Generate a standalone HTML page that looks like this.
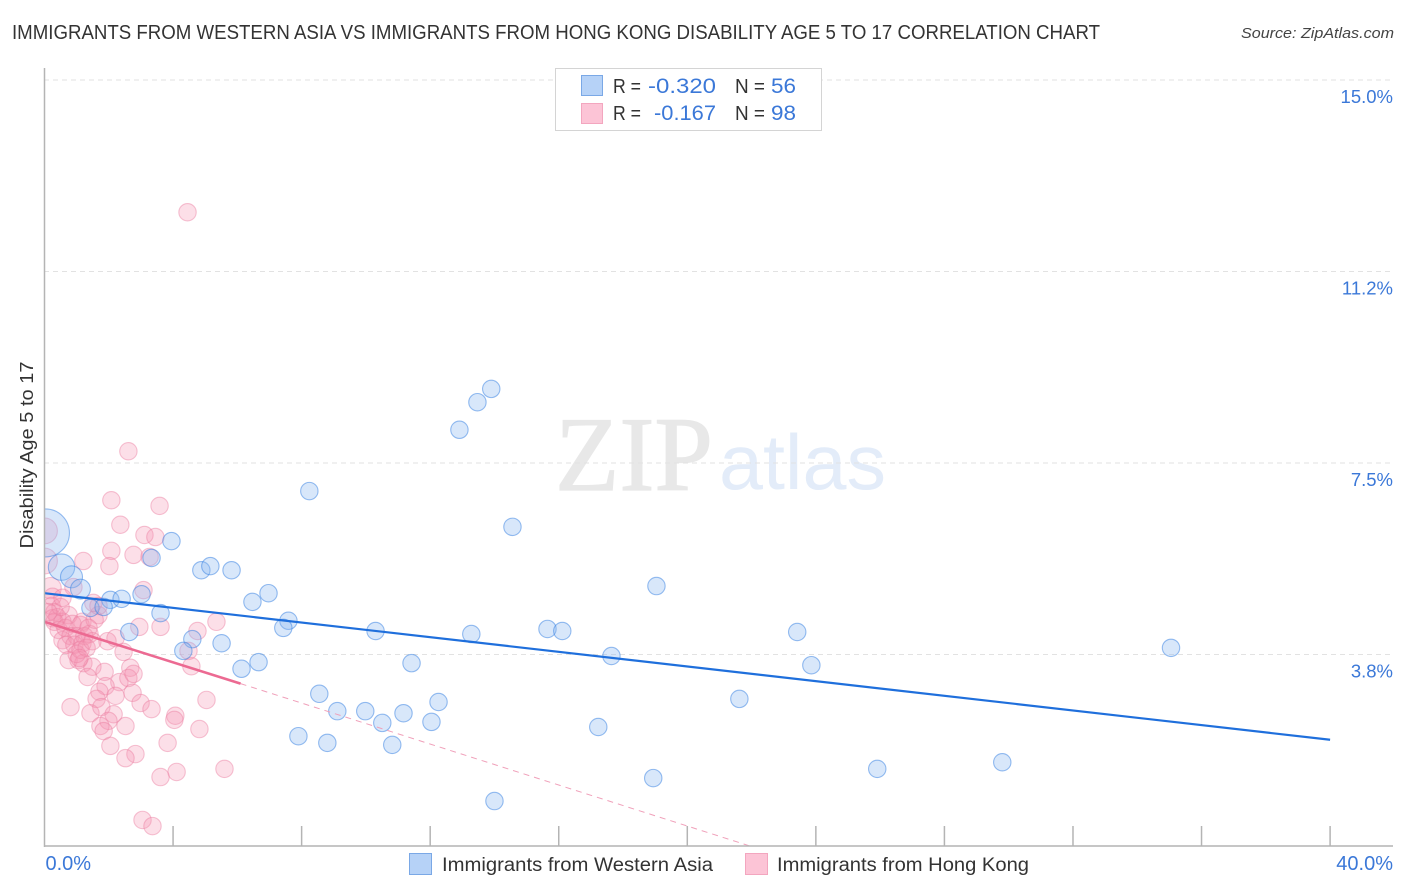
<!DOCTYPE html>
<html lang="en">
<head>
<meta charset="utf-8">
<title>Immigrants from Western Asia vs Immigrants from Hong Kong Disability Age 5 to 17 Correlation Chart</title>
<style>
html,body{margin:0;padding:0;background:#fff;}
svg{display:block;font-family:"Liberation Sans",Arial,sans-serif;}
</style>
</head>
<body>
<svg id="chart" width="1406" height="892" viewBox="0 0 1406 892" xmlns="http://www.w3.org/2000/svg">
  <defs>
    <clipPath id="plot-clip"><rect x="45" y="60" width="1348" height="786"/></clipPath>
  </defs>
  <rect x="0" y="0" width="1406" height="892" fill="#ffffff"/>
  <text x="12" y="39" font-size="20" fill="#333333" textLength="1088" lengthAdjust="spacingAndGlyphs">IMMIGRANTS FROM WESTERN ASIA VS IMMIGRANTS FROM HONG KONG DISABILITY AGE 5 TO 17 CORRELATION CHART</text>
  <text x="1394" y="38" font-size="15" font-style="italic" fill="#444444" text-anchor="end" textLength="153" lengthAdjust="spacingAndGlyphs">Source: ZipAtlas.com</text>

  <g>
    <text x="555" y="490" font-family="'Liberation Serif',serif" font-size="106" stroke="#e8e8e8" stroke-width="1.2" fill="#e8e8e8" textLength="158" lengthAdjust="spacingAndGlyphs">ZIP</text>
    <text x="719" y="489" font-size="78" fill="#e3ecf9" textLength="167" lengthAdjust="spacingAndGlyphs">atlas</text>
  </g>

  <g id="grid"></g>
  <g id="marks-pink" clip-path="url(#plot-clip)"></g>
  <g id="marks-blue" clip-path="url(#plot-clip)"></g>
  <g id="trends"></g>
  <g id="axes"></g>

  <text x="0" y="0" transform="translate(33,455) rotate(-90)" font-size="18" fill="#333333" text-anchor="middle" textLength="187" lengthAdjust="spacingAndGlyphs">Disability Age 5 to 17</text>

  <g>
    <rect x="555.5" y="68.5" width="266" height="62" fill="#ffffff" stroke="#d4d4d4" stroke-width="1"/>
    <rect x="581.5" y="75.5" width="21" height="20" fill="#b6d2f7" stroke="#7aa8e6"/>
    <rect x="581.5" y="103.5" width="21" height="20" fill="#fcc4d6" stroke="#f3a6bf"/>
    <text x="613" y="93" font-size="20" fill="#333333" textLength="28" lengthAdjust="spacingAndGlyphs">R =</text>
    <text x="716" y="93" font-size="21.5" fill="#3b78d8" text-anchor="end" textLength="68" lengthAdjust="spacingAndGlyphs">-0.320</text>
    <text x="735" y="93" font-size="20" fill="#333333" textLength="30" lengthAdjust="spacingAndGlyphs">N =</text>
    <text x="771" y="93" font-size="21.5" fill="#3b78d8" textLength="25" lengthAdjust="spacingAndGlyphs">56</text>
    <text x="613" y="120" font-size="20" fill="#333333" textLength="28" lengthAdjust="spacingAndGlyphs">R =</text>
    <text x="716" y="120" font-size="21.5" fill="#3b78d8" text-anchor="end" textLength="62" lengthAdjust="spacingAndGlyphs">-0.167</text>
    <text x="735" y="120" font-size="20" fill="#333333" textLength="30" lengthAdjust="spacingAndGlyphs">N =</text>
    <text x="771" y="120" font-size="21.5" fill="#3b78d8" textLength="25" lengthAdjust="spacingAndGlyphs">98</text>
  </g>

  <g>
    <rect x="409.5" y="853.5" width="22" height="21" fill="#b6d2f7" stroke="#7aa8e6"/>
    <text x="442" y="871" font-size="19" fill="#333333" textLength="271" lengthAdjust="spacingAndGlyphs">Immigrants from Western Asia</text>
    <rect x="745.5" y="853.5" width="22" height="21" fill="#fcc4d6" stroke="#f3a6bf"/>
    <text x="777" y="871" font-size="19" fill="#333333" textLength="252" lengthAdjust="spacingAndGlyphs">Immigrants from Hong Kong</text>
  </g>
</svg>
<script>
// ---- chart data (percent units) ----
const blueX = [13.90,13.47,12.91,8.24,14.56,3.95,3.33,4.88,5.16,5.82,19.04,6.97,6.47,3.02,2.05,2.40,1.43,1.84,3.61,7.59,7.43,10.30,13.28,15.65,16.11,23.42,2.64,4.60,4.32,5.51,35.05,17.64,6.66,6.13,11.42,23.86,8.55,21.62,12.26,9.11,9.98,11.17,10.51,12.04,17.23,7.90,8.80,10.82,29.80,25.91,18.94,14.00,0.03,0.53,0.84,1.12];
const blueY = [8.95,8.69,8.15,6.95,6.25,5.97,5.64,5.40,5.48,5.40,5.09,4.95,4.78,4.93,4.82,4.84,4.66,4.68,4.56,4.41,4.27,4.21,4.15,4.25,4.21,4.19,4.19,4.05,3.82,3.97,3.88,3.72,3.60,3.47,3.58,3.54,2.98,2.88,2.82,2.64,2.64,2.60,2.41,2.43,2.33,2.15,2.02,1.98,1.64,1.51,1.33,0.88,6.13,5.46,5.27,5.03];
const blueWeight = [1,1,1,1,1,1,1,1,1,1,1,1,1,1,1,1,1,1,1,1,1,1,1,1,1,1,1,1,1,1,1,1,1,1,1,1,1,1,1,1,1,1,1,1,1,1,1,1,1,1,1,1,7.6,2.3,1.6,1.3];

const pinkX = [4.45,2.61,2.08,3.58,2.36,3.11,3.45,2.08,2.77,3.27,1.21,2.02,3.08,0.90,1.52,1.68,0.75,2.95,3.61,5.35,4.76,4.48,1.96,2.21,2.46,1.18,0.75,1.06,1.21,1.49,1.34,1.87,2.67,2.33,2.61,2.77,4.57,1.90,1.71,1.62,2.21,2.74,2.99,3.33,0.81,1.43,1.77,2.15,5.04,4.07,4.04,2.52,1.99,1.74,1.84,4.82,3.83,2.05,2.83,2.52,4.11,3.61,5.60,3.05,3.36,0.00,0.00,0.19,0.25,0.22,0.31,0.25,0.40,0.31,0.56,0.44,0.65,0.87,1.12,0.56,0.81,1.00,1.24,1.40,1.56,1.37,0.68,0.93,1.18,1.00,1.12,1.31,1.09,1.49,1.68,0.50,0.12,0.56];
const pinkY = [12.41,7.73,6.77,6.66,6.29,6.09,6.05,5.78,5.70,5.66,5.58,5.48,5.01,5.07,4.76,4.52,4.52,4.29,4.29,4.39,4.21,3.82,4.01,4.07,3.80,4.39,3.64,3.64,3.58,3.51,3.31,3.41,3.49,3.21,3.29,3.37,3.52,3.13,3.02,2.88,2.94,3.00,2.80,2.68,2.72,2.60,2.72,2.58,2.86,2.55,2.47,2.35,2.45,2.35,2.25,2.29,2.02,1.96,1.80,1.72,1.45,1.35,1.51,0.51,0.39,6.17,5.58,5.05,4.88,4.70,4.58,4.46,4.48,4.39,4.39,4.23,4.27,4.35,4.33,4.03,4.11,4.11,4.11,4.15,4.43,4.27,3.94,3.94,3.97,3.76,3.84,3.88,3.68,4.01,4.70,4.68,4.58,4.86];
const pinkWeight = [1,1,1,1,1,1,1,1,1,1,1,1,1,1,1,1,1,1,1,1,1,1,1,1,1,1,1,1,1,1,1,1,1,1,1,1,1,1,1,1,1,1,1,1,1,1,1,1,1,1,1,1,1,1,1,1,1,1,1,1,1,1,1,1,1,2.2,2.2,1.5,1,1,1,1,1,1,1,1,1,1,1,1,1,1,1,1,1,1,1,1,1,1,1,1,1,1,1,1,1,1];

const blueTrendX = [0,40];
const blueTrendY = [4.95,2.08];
const pinkTrendX = [0,6.1];
const pinkTrendY = [4.39,3.18];
const pinkProjectionX = [6.1,21.95];
const pinkProjectionY = [3.18,0];

const yTicks = [3.75,7.5,11.25,15];
const yTickLabels = ['3.8%','7.5%','11.2%','15.0%'];
const xTicks = [4,8,12,16,20,24,28,32,36,40];
const xEndValues = [0,40];
const xEndLabels = ['0.0%','40.0%'];

// ---- axis functions ----
const xScale = v => 44.5 + v * 32.14;
const yScale = v => 846 - v * 51.07;
const NS = 'http://www.w3.org/2000/svg';

function make(parent, tag, props) {
  const el = document.createElementNS(NS, tag);
  for (const k in props) el.setAttribute(k, props[k]);
  parent.appendChild(el);
  return el;
}

const gridG = document.getElementById('grid');
const axesG = document.getElementById('axes');
const trendsG = document.getElementById('trends');
const pinkG = document.getElementById('marks-pink');
const blueG = document.getElementById('marks-blue');

yTicks.forEach((v, i) => {
  const line = make(gridG, 'line', {x1: 44, x2: 1393, y1: yScale(v), y2: yScale(v), stroke: '#e2e2e2', 'stroke-width': 1, 'stroke-dasharray': '5 4'});
  
  
  const label = make(axesG, 'text', {x: 1393, y: yScale(v) + 23, 'font-size': 18.5, fill: '#3b78d8', 'text-anchor': 'end'});
  label.textContent = yTickLabels[i];
  
  
});

const leftAxis = make(axesG, 'line', {x1: 44.5, x2: 44.5, y1: 68, y2: 847, stroke: '#b4b4b4', 'stroke-width': 1.5});


const bottomAxis = make(axesG, 'line', {x1: 44, x2: 1393, y1: 846, y2: 846, stroke: '#b4b4b4', 'stroke-width': 1.5});



xTicks.forEach(v => {
  const tick = make(axesG, 'line', {x1: xScale(v), x2: xScale(v), y1: 826, y2: 846, stroke: '#b4b4b4', 'stroke-width': 1.5});
  
  
});

xEndValues.forEach((v, i) => {
  const isFirst = i === 0;
  const label = make(axesG, 'text', {x: isFirst ? xScale(v) + 1 : 1393, y: 870, 'font-size': 20, fill: '#3b78d8', 'text-anchor': isFirst ? 'start' : 'end'});
  label.textContent = xEndLabels[i];
  
  
});

function drawPoints(group, xs, ys, ws, fill, stroke, name) {
  xs.forEach((x, i) => {
    const c = make(group, 'circle', {cx: xScale(x), cy: yScale(ys[i]), r: 8.7 * Math.sqrt(ws[i]), fill: fill, stroke: stroke, 'stroke-width': 1.1});
    
    
  });
}
drawPoints(pinkG, pinkX, pinkY, pinkWeight, 'rgba(246,150,180,0.3)', 'rgba(236,125,160,0.45)', 'hong-kong-point');
drawPoints(blueG, blueX, blueY, blueWeight, 'rgba(140,185,240,0.34)', 'rgba(50,125,225,0.5)', 'western-asia-point');

function drawLine(xs, ys, props, name) {
  const l = make(trendsG, 'line', Object.assign({x1: xScale(xs[0]), y1: yScale(ys[0]), x2: xScale(xs[1]), y2: yScale(ys[1])}, props));
  
  
}
drawLine(pinkProjectionX, pinkProjectionY, {stroke: '#f0a0ba', 'stroke-width': 1, 'stroke-dasharray': '6 5'}, 'hong-kong-trend-projection');
drawLine(blueTrendX, blueTrendY, {stroke: '#1f6fdc', 'stroke-width': 2.2}, 'western-asia-trend-line');
drawLine(pinkTrendX, pinkTrendY, {stroke: '#ec6a92', 'stroke-width': 2.6}, 'hong-kong-trend-line');
</script>
</body>
</html>
